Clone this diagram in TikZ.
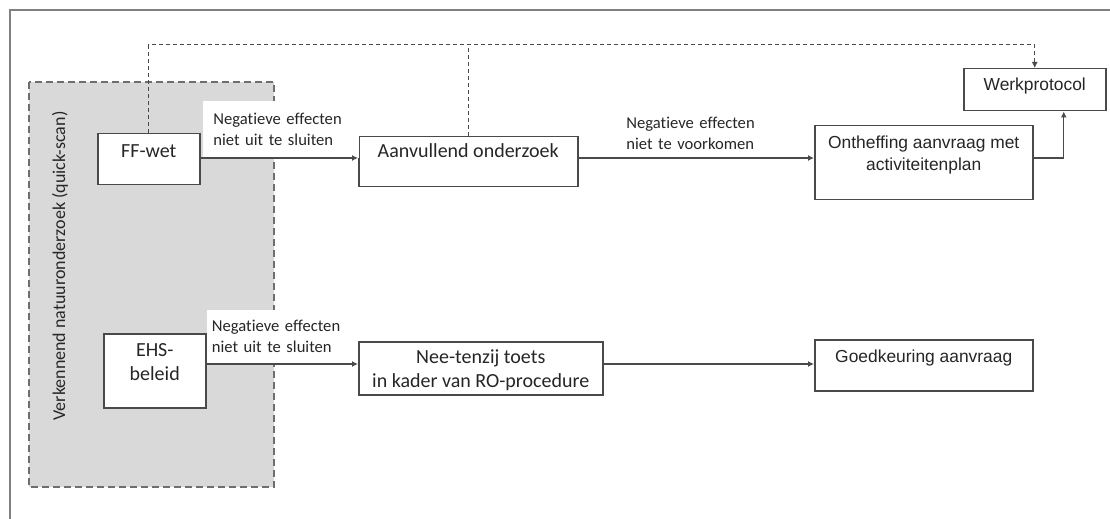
\documentclass[tikz,border=0pt]{standalone}
\usepackage{fontspec}
\setmainfont{Carlito}[Ligatures=CommonOff]
\newfontfamily\arialfont{Liberation Sans}
\usepackage{tikz}
\usetikzlibrary{arrows.meta}
\usetikzlibrary{positioning}
\usetikzlibrary{calc}

\begin{document}
\begin{tikzpicture}[x=0.5pt,y=-0.5pt]
\definecolor{lijn}{HTML}{4A4A4A}
\definecolor{kader}{HTML}{808080}
\definecolor{scan}{HTML}{D9D9D9}
\tikzstyle{box node}=[rectangle,draw=lijn,line width=0.75pt,fill=white,text=black!85,anchor=north west,inner ysep=0,inner xsep=2pt,align=center,font=\fontsize{10}{12}\selectfont]
\tikzstyle{arial node}=[box node,font=\arialfont\fontsize{8.7}{11}\selectfont]
\tikzstyle{label node}=[rectangle,text=black!85,anchor=south west,inner ysep=0,inner xsep=5pt,align=left,font=\fontsize{8.3}{10.5}\selectfont]
\tikzset{
  pijl/.style = {-{Latex[length=3pt,width=3pt]},draw=lijn,line width=0.6pt},
  stippel/.style = {draw=lijn,line width=0.5pt,dash pattern=on 2pt off 1.5pt},
  scanbox/.style = {fill=scan,draw=lijn!80,line width=0.6pt,dash pattern=on 3.5pt off 2pt}
}

\useasboundingbox (0,0) rectangle (1110,519);
\draw[kader,line width=1pt] (10,519) -- (10,10) -- (1110,10);
\coordinate (top) at (0,45);

%%%%%%%%%%%%%%%%%%%%%%%%%%%%%%%%%%%
\filldraw[scanbox] (29,82) rectangle (274,487);
\node[rotate=90,text=black!85,font=\fontsize{9}{11}\selectfont] (vn) at (60,266) {Verkennend natuuronderzoek (quick-scan)};

\node[box node] (ffwet) at (97,133) [minimum width=51pt,text height=12pt,text depth=13.5pt] {FF-wet};
\node[box node] (ehs) at (103,333) [minimum width=51pt,text height=23.5pt,text depth=13.5pt] {EHS-\\beleid};
\node[box node] (aanv) at (358,136) [minimum width=109.5pt,text height=10.5pt,text depth=14.5pt] {Aanvullend onderzoek};
\node[box node] (nee) at (358,341) [minimum width=122pt,text height=22.75pt,text depth=3.75pt] {Nee-tenzij toets\\in kader van RO-procedure};
\node[arial node] (onth) at (814,125) [minimum width=109pt,text height=22.5pt,text depth=14.5pt] {Ontheffing aanvraag met\\activiteitenplan};
\node[arial node] (goed) at (814,339) [minimum width=109pt,text height=11.5pt,text depth=14pt] {Goedkeuring aanvraag};
\node[arial node] (werk) at (963,68) [minimum width=71pt,text height=11pt,text depth=10pt] {Werkprotocol};

%%%%%%%%%%%%%%%%%%%%%%%%%%%%%%%%%%%
\node[label node,fill=white] (lab1) at (203,158) [text width=68pt,minimum height=28.5pt] {Negatieve effecten\\niet uit te sluiten};
\node[label node,fill=white] (lab2) at (207,364) [text width=67pt,inner xsep=2.25pt,minimum height=27pt] {Negatieve effecten\\niet uit te sluiten};
\node[label node] (lab3) at (621,162) [text width=70pt,inner xsep=2.5pt,minimum height=28.5pt] {Negatieve effecten\\niet te voorkomen};

%%%%%%%%%%%%%%%%%%%%%%%%%%%%%%%%%%%
\path
    (ffwet.east |- lab1.south) edge[pijl] (aanv.west |- lab1.south)
    (aanv.east |- lab1.south) edge[pijl] (onth.west |- lab1.south)
    (ehs.east |- lab2.south) edge[pijl] (nee.west |- lab2.south)
    (nee.east |- lab2.south) edge[pijl] (goed.west |- lab2.south)
;
\draw[pijl] (onth.east |- lab1.south) -| ([xshift=14.5pt]werk.south);
%%%%%%%%%%%%%%%%%
\draw[stippel,-{Latex[length=3pt,width=3pt]}] (ffwet.north) |- (werk.north |- top) -- (werk.north);
\draw[stippel] (aanv.north) -- (aanv.north |- top);
\end{tikzpicture}
\end{document}
